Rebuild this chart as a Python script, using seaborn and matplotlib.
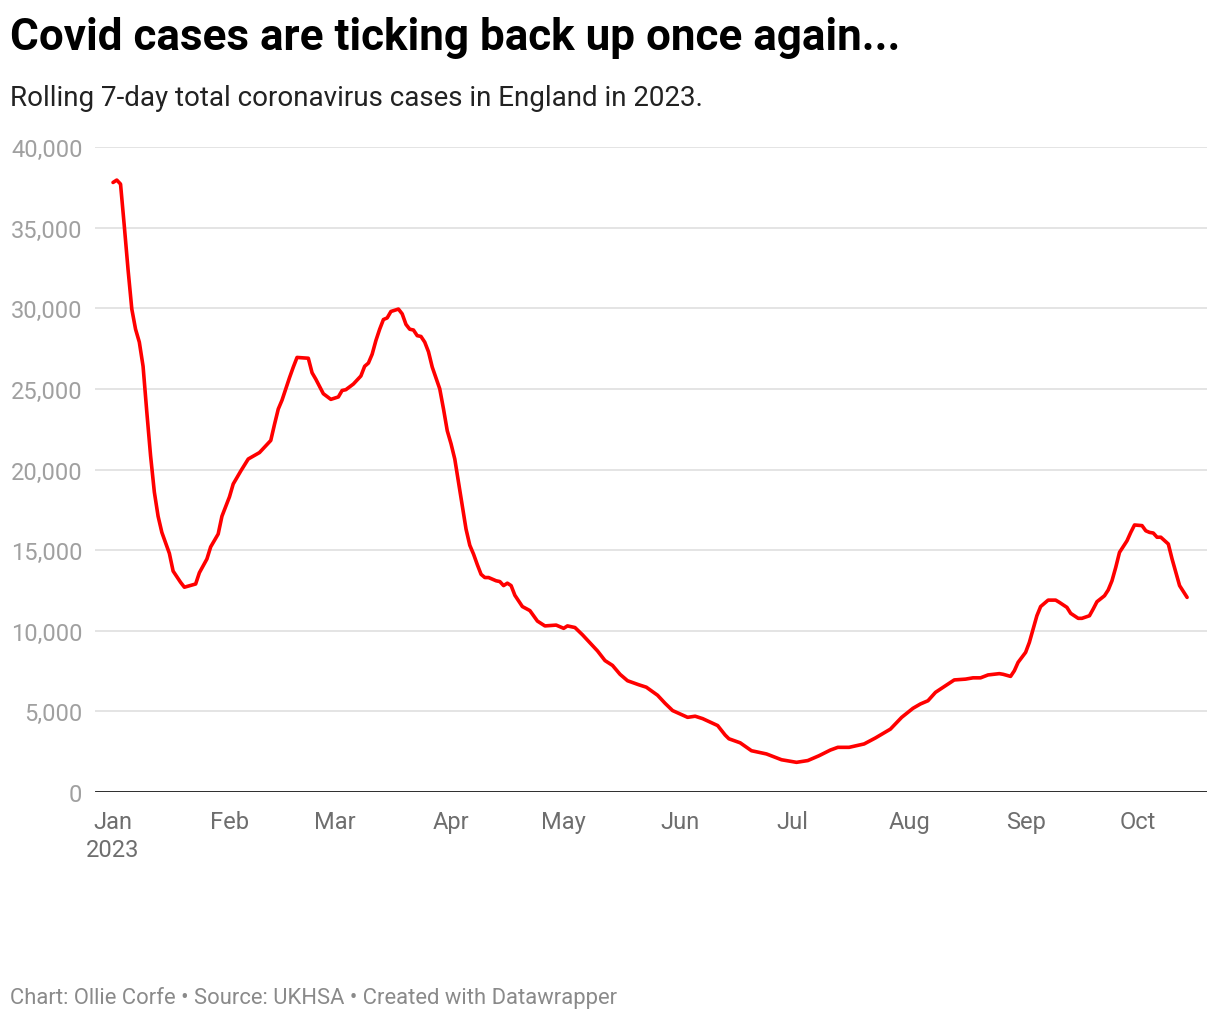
import numpy as np
import pandas as pd
import seaborn as sns
import matplotlib.pyplot as plt

# days since 1 Jan 2023 and rolling 7-day case totals
days = [0, 1, 2, 3, 4, 5, 6, 7, 8, 9, 10, 11, 12, 13, 15, 16, 18, 19, 22, 23,
        25, 26, 28, 29, 31, 32, 34, 36, 39, 40, 42, 43, 44, 45, 47, 48, 49, 52, 53, 54,
        56, 58, 60, 61, 62, 64, 66, 67, 68, 69, 70, 71, 72, 73, 74, 76, 77, 78, 79, 80,
        81, 82, 83, 84, 85, 87, 88, 89, 90, 91, 92, 93, 94, 95, 96, 97, 98, 99, 100, 102,
        103, 104, 105, 106, 107, 109, 111, 113, 115, 118, 120, 121, 123, 125, 126, 129, 131, 133, 135, 137,
        140, 142, 145, 147, 149, 153, 155, 157, 161, 163, 164, 167, 170, 174, 178, 182, 185, 188, 191, 193,
        196, 200, 203, 207, 210, 213, 215, 217, 219, 222, 224, 227, 229, 231, 233, 236, 237, 239, 240, 241,
        243, 244, 245, 246, 247, 249, 251, 252, 254, 255, 257, 258, 260, 261, 262, 264, 265, 266, 267, 268,
        270, 271, 272, 274, 275, 276, 277, 278, 279, 281, 282, 283, 284, 286]
cases = [37800, 37950, 37700, 35100, 32400, 29950, 28700, 27900, 26400, 23550,
         20850, 18600, 17100, 16100, 14800, 13700, 13000, 12700, 12900, 13600,
         14450, 15200, 16000, 17100, 18300, 19100, 19900, 20650, 21050, 21300,
         21800, 22800, 23750, 24300, 25700, 26350, 26950, 26900, 26000, 25600,
         24700, 24350, 24500, 24900, 24950, 25300, 25800, 26400, 26600, 27150,
         28000, 28700, 29300, 29400, 29800, 29950, 29650, 29000, 28700, 28650,
         28300, 28250, 27900, 27300, 26350, 25000, 23750, 22400, 21600, 20650,
         19200, 17750, 16300, 15300, 14750, 14100, 13500, 13300, 13300, 13100,
         13050, 12800, 12950, 12800, 12200, 11500, 11250, 10600, 10300, 10350,
         10150, 10300, 10200, 9750, 9500, 8750, 8150, 7850, 7300, 6900,
         6650, 6500, 6000, 5500, 5050, 4630, 4700, 4550, 4120, 3530,
         3300, 3050, 2560, 2360, 2000, 1840, 1950, 2250, 2600, 2770,
         2770, 2980, 3350, 3900, 4630, 5190, 5460, 5660, 6180, 6640,
         6950, 7000, 7080, 7080, 7260, 7340, 7300, 7170, 7520, 8040,
         8660, 9280, 10100, 10930, 11500, 11900, 11900, 11760, 11450, 11080,
         10770, 10770, 10930, 11350, 11800, 12170, 12530, 13100, 13930, 14860,
         15580, 16100, 16560, 16520, 16200, 16100, 16060, 15800, 15800, 15380,
         14450, 13620, 12800, 12070]

y_ticks = [0, 5000, 10000, 15000, 20000, 25000, 30000, 35000, 40000]
month_labels = ["Jan\n2023", "Feb", "Mar", "Apr", "May", "Jun", "Jul", "Aug", "Sep", "Oct"]

start = pd.Timestamp("2023-01-01")
df = pd.DataFrame({
    "date": start + pd.to_timedelta(days, unit="D"),
    "cases": cases,
})

sns.set_style("white")
plt.rcParams["font.family"] = ["Roboto", "DejaVu Sans"]

fig = plt.figure(figsize=(12.2, 10.2), dpi=100)
ax = fig.add_axes([95 / 1220, 1 - 793 / 1020, 1112 / 1220, 645 / 1020])

sns.lineplot(data=df, x="date", y="cases", color="#ff0000", linewidth=2.6, ax=ax)

ax.set_ylim(0, 40000)
ax.set_xlim(start - pd.Timedelta(days=4.8), start + pd.Timedelta(days=291.3))

ax.set_yticks(y_ticks)
ax.set_yticklabels([f"{v:,}" for v in y_ticks])
month_starts = pd.date_range("2023-01-01", periods=len(month_labels), freq="MS")
ax.set_xticks(month_starts)
ax.set_xticklabels(month_labels)

for v in y_ticks[1:]:
    ax.axhline(v, color="#e2e2e2", linewidth=1.3, zorder=0)
ax.axhline(0, color="#1a1a1a", linewidth=2, zorder=3)

for s in ax.spines.values():
    s.set_visible(False)
ax.tick_params(axis="y", length=0, pad=9, labelsize=17, labelcolor="#a0a0a0")
ax.tick_params(axis="x", length=0, pad=13, labelsize=17, labelcolor="#6e6e6e")
for lbl in ax.get_xticklabels():
    lbl.set_linespacing(1.3)
ax.set_xlabel("")
ax.set_ylabel("")

fig.text(10 / 1220, 1 - 38 / 1020, "Covid cases are ticking back up once again...",
         fontsize=31.7, fontweight="bold", color="#000000", va="center", ha="left")
fig.text(10 / 1220, 1 - 99 / 1020, "Rolling 7-day total coronavirus cases in England in 2023.",
         fontsize=20, color="#222222", va="center", ha="left")
fig.text(10 / 1220, 1 - 998 / 1020, "Chart: Ollie Corfe \u2022 Source: UKHSA \u2022 Created with Datawrapper",
         fontsize=15.8, color="#8a8a8a", va="center", ha="left")

fig.savefig("out.png", dpi=100, facecolor="white")
